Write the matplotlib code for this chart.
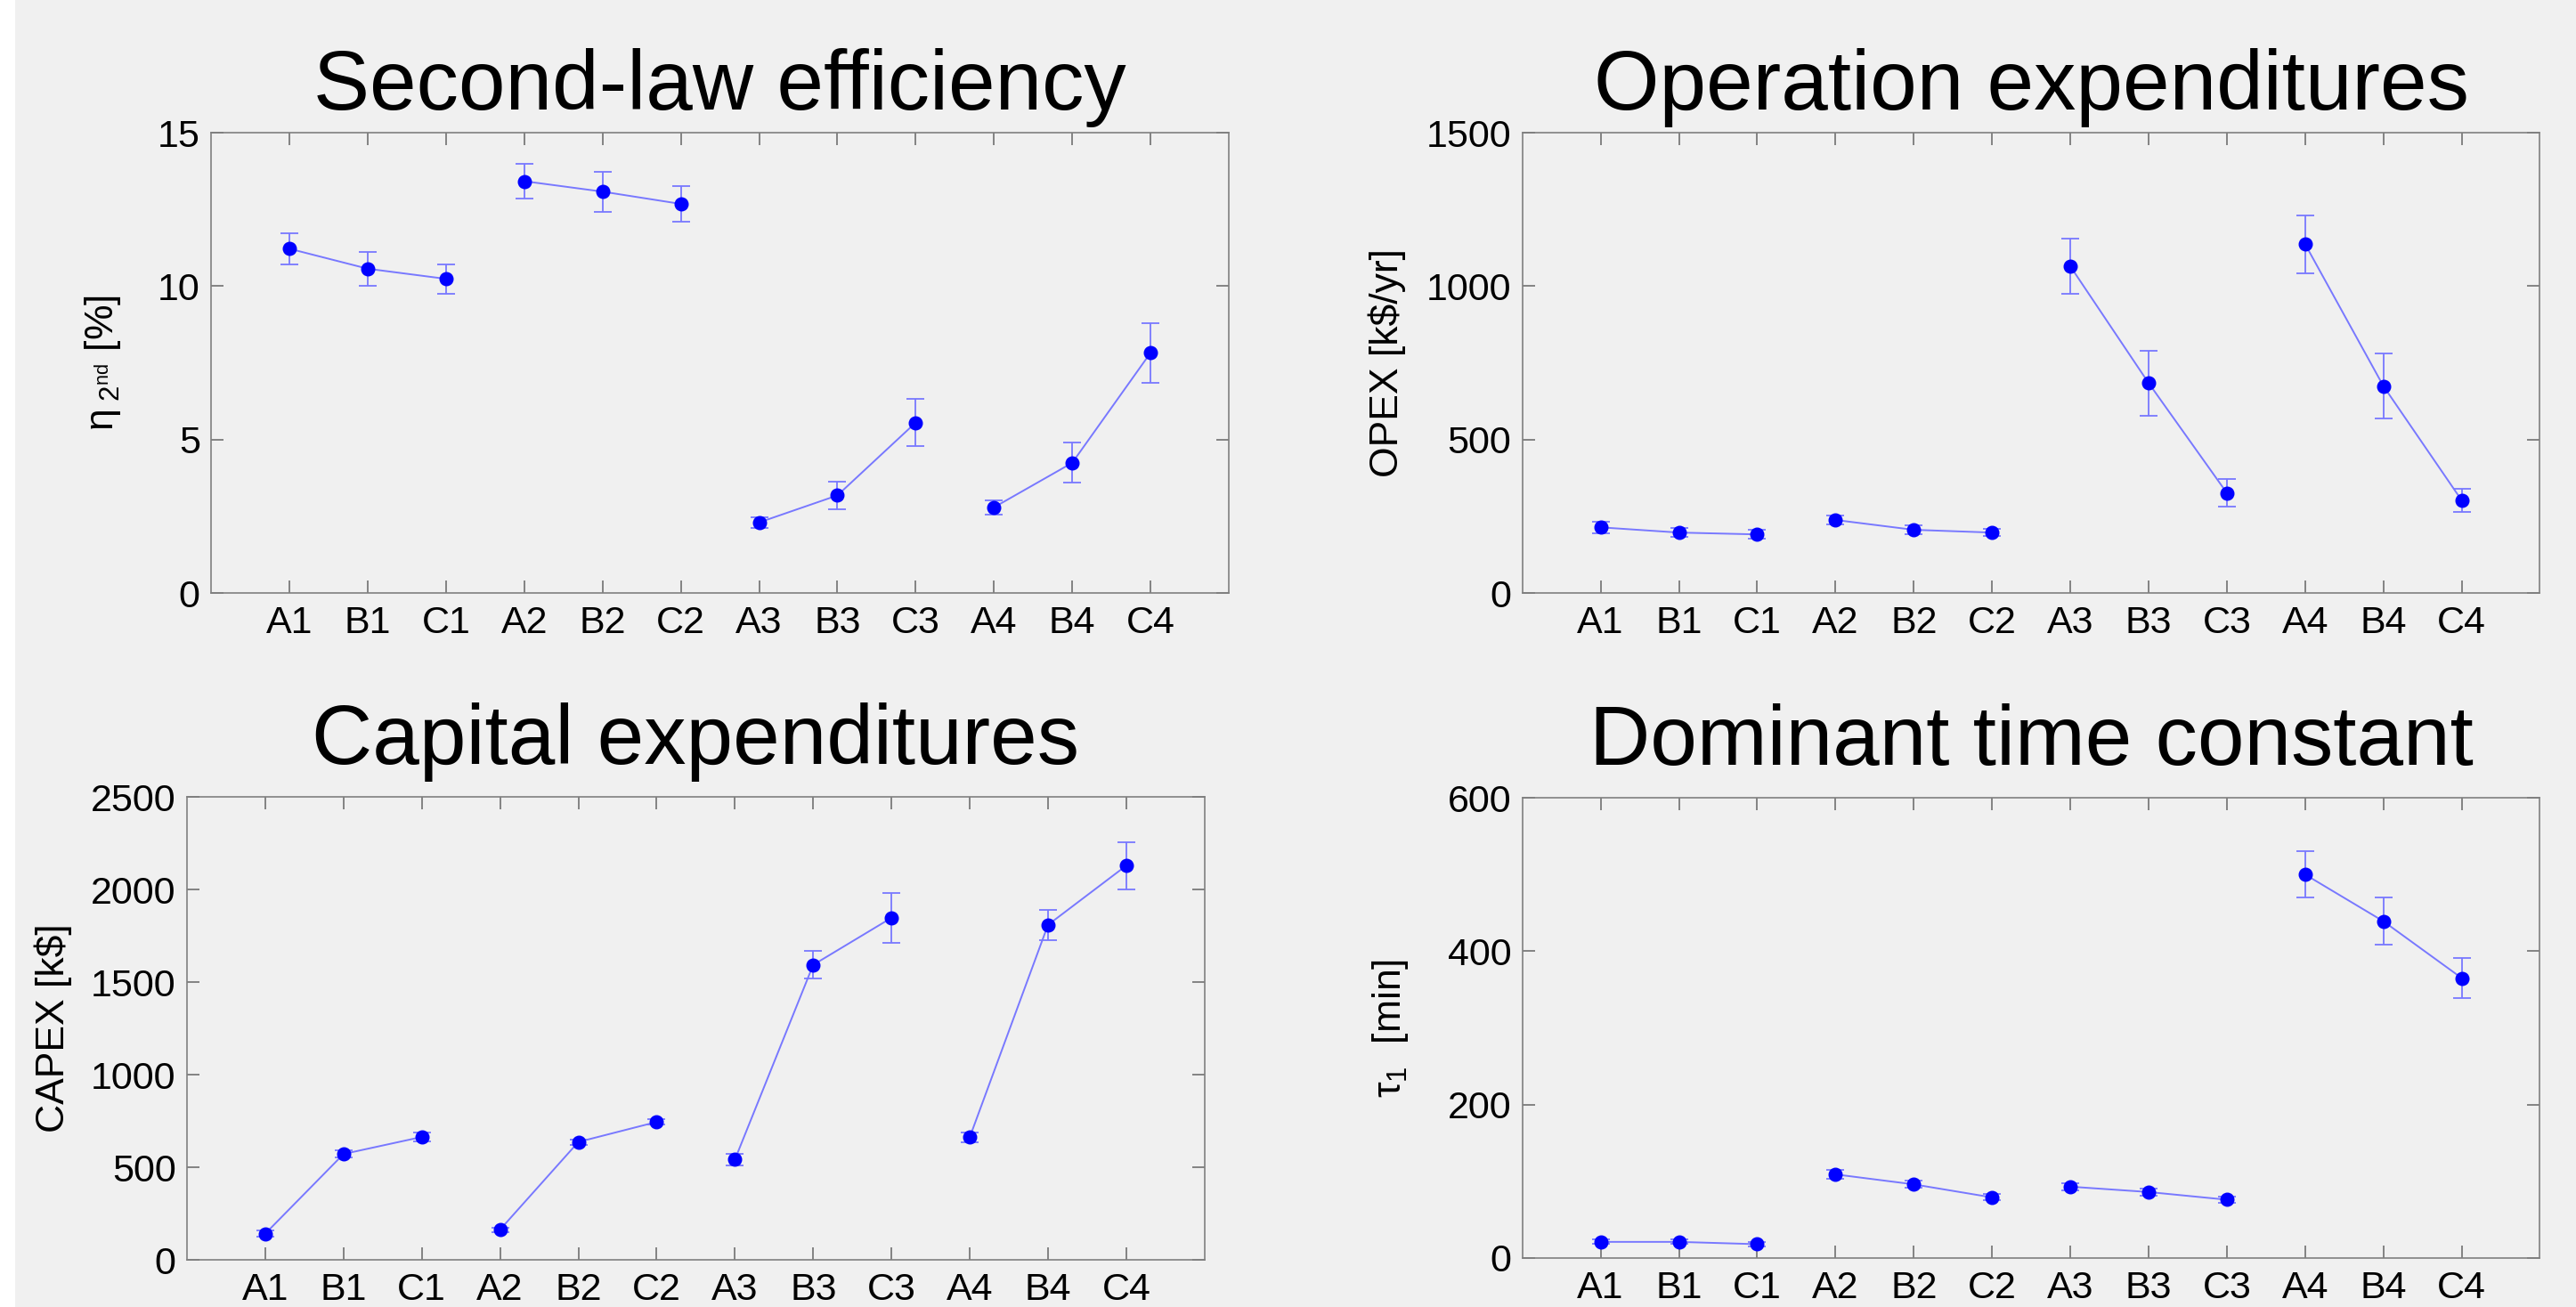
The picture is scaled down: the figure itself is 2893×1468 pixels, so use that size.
import numpy as np
import matplotlib
matplotlib.use("Agg")
import matplotlib.pyplot as plt
from matplotlib.patches import Rectangle

plt.rcParams['font.family'] = ['Liberation Sans', 'DejaVu Sans']
plt.rcParams['mathtext.fontset'] = 'custom'
plt.rcParams['mathtext.rm'] = 'Liberation Sans'
plt.rcParams['mathtext.it'] = 'Liberation Sans'
plt.rcParams['mathtext.bf'] = 'Liberation Sans:bold'

# categories (groups of three are connected)
labels = ['A1', 'B1', 'C1', 'A2', 'B2', 'C2', 'A3', 'B3', 'C3', 'A4', 'B4', 'C4']

# second-law efficiency [%]
eta = [11.22, 10.57, 10.24, 13.42, 13.08, 12.68, 2.31, 3.19, 5.56, 2.80, 4.25, 7.83]
eta_err = [0.50, 0.55, 0.48, 0.57, 0.65, 0.58, 0.17, 0.45, 0.77, 0.24, 0.65, 0.98]

# operation expenditures [k$/yr]
opex = [215, 198, 192, 239, 207, 198, 1065, 685, 327, 1137, 675, 303]
opex_err = [18, 15, 14, 14, 14, 12, 90, 106, 45, 94, 106, 37]

# capital expenditures [k$]
capex = [142, 572, 664, 164, 637, 745, 542, 1593, 1847, 662, 1809, 2129]
capex_err = [18, 18, 22, 12, 15, 15, 30, 75, 133, 27, 81, 127]

# dominant time constant [min]
tau = [21, 21, 18, 109, 96, 79, 93, 86, 76, 500, 439, 365]
tau_err = [3, 3, 3, 5.5, 4.5, 4, 5, 5, 4, 30, 31, 26]

BG = '#f0f0f0'
LINE = '#7878ff'
MARK = '#0000ff'


def panel(ax, values, errors, title, ylabel, ymax, yticks, title_pad, label_x):
    x = np.arange(1, len(values) + 1)
    v = np.array(values, dtype=float)
    e = np.array(errors, dtype=float)
    for g in range(0, len(v), 3):
        sl = slice(g, g + 3)
        ax.errorbar(x[sl], v[sl], yerr=e[sl], fmt='none', ecolor=LINE,
                    elinewidth=1.3, capsize=7, capthick=1.3)
        ax.plot(x[sl], v[sl], color=LINE, lw=1.4)
        ax.plot(x[sl], v[sl], 'o', color=MARK, ms=10.5)
    ax.set_xlim(0, 13)
    ax.set_ylim(0, ymax)
    ax.set_xticks(x)
    ax.set_xticklabels(labels)
    ax.set_yticks(yticks)
    ax.set_facecolor(BG)
    for s in ax.spines.values():
        s.set_color('#808080')
        s.set_linewidth(1.2)
    ax.tick_params(direction='in', length=10, width=1.2, color='#707070',
                   top=True, right=True, labelsize=31)
    ax.tick_params(axis='x', pad=10)
    ax.tick_params(axis='y', pad=9)
    ax.set_title(title, fontsize=68, pad=title_pad)
    ax.set_ylabel(ylabel, fontsize=32)
    ax.yaxis.set_label_coords(label_x, 0.5)


def main():
    fig = plt.figure(figsize=(28.93, 14.68), dpi=100)
    fig.patch.set_facecolor(BG)
    fig.patches.append(Rectangle((0, 0), 17 / 2893, 1, transform=fig.transFigure,
                                 facecolor='white', edgecolor='none', zorder=-1))

    ax1 = fig.add_axes([0.082, 0.546, 0.395, 0.3525])
    ax2 = fig.add_axes([0.591, 0.546, 0.395, 0.3525])
    ax3 = fig.add_axes([0.0726, 0.036, 0.395, 0.3543])
    ax4 = fig.add_axes([0.591, 0.0375, 0.395, 0.3521])

    panel(ax1, eta, eta_err, 'Second-law efficiency', r'$\eta_{\ 2^{nd}}$ [%]',
          15, [0, 5, 10, 15], 19, -0.087)
    panel(ax2, opex, opex_err, 'Operation expenditures', 'OPEX [k$/yr]',
          1500, [0, 500, 1000, 1500], 19, -0.114)
    panel(ax3, capex, capex_err, 'Capital expenditures', 'CAPEX [k$]',
          2500, [0, 500, 1000, 1500, 2000, 2500], 27, -0.113)
    panel(ax4, tau, tau_err, 'Dominant time constant', r'$\tau_1$  [min]',
          600, [0, 200, 400, 600], 27, -0.110)

    fig.savefig('out.png', dpi=100, facecolor=fig.get_facecolor())


if __name__ == "__main__":
    main()
